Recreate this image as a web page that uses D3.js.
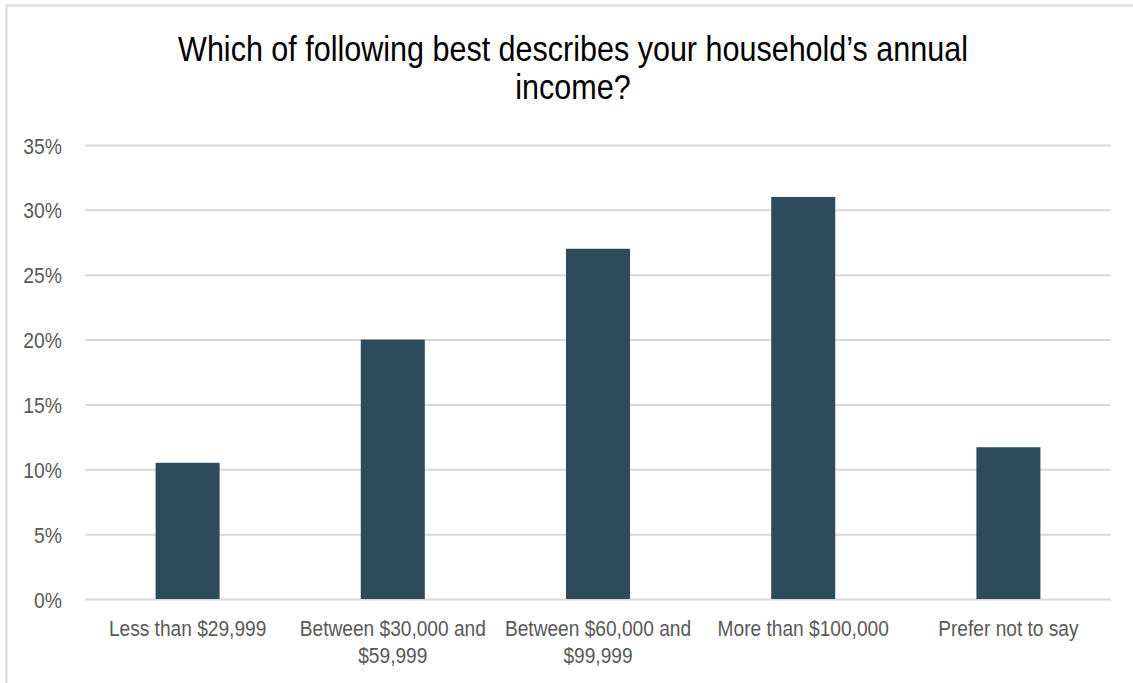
<!DOCTYPE html>
<html>
<head>
<meta charset="utf-8">
<script src="https://cdn.jsdelivr.net/npm/d3@7"></script>
<style>
  body { margin: 0; background: #fff; }
  svg { display: block; font-family: "Liberation Sans", Arial, sans-serif; }
</style>
</head>
<body>
<div id="chart"></div>
<script>
const categories = [
  "Less than $29,999",
  "Between $30,000 and|$59,999",
  "Between $60,000 and|$99,999",
  "More than $100,000",
  "Prefer not to say"
]
const values = [0.105, 0.20, 0.27, 0.31, 0.117]
const yTicks = [0, 0.05, 0.10, 0.15, 0.20, 0.25, 0.30, 0.35]
const titleLines = ["Which of following best describes your household\u2019s annual", "income?"]

const width = 1133
const height = 683
const margin = {top: 145, right: 22, bottom: 84, left: 85}

const svg = d3.select("#chart").append("svg")
  .attr("width", width)
  .attr("height", height)

// chart frame (only top and left edges visible)
svg.append("rect")
  .attr("x", 6.5).attr("y", 5.5)
  .attr("width", width + 20).attr("height", height + 20)
  .attr("fill", "none")
  .attr("stroke", "#d9d9d9")
  .attr("stroke-width", 2)

const x = d3.scaleBand()
  .domain(categories)
  .range([margin.left, width - margin.right])
  .paddingInner(0.688)
  .paddingOuter(0.344)

const y = d3.scaleLinear()
  .domain([0, 0.35])
  .range([height - margin.bottom, margin.top])

// the text in the reference is narrow, so glyphs get squeezed sideways
const yAxis = g => g
  .attr("transform", `translate(${margin.left}, 0)`)
  .call(d3.axisLeft(y)
    .tickValues(yTicks)
    .tickFormat(d3.format(".0%"))
    .tickSize(-(width - margin.left - margin.right)))
  .call(g => g.select(".domain").remove())
  .call(g => g.selectAll(".tick line")
    .attr("stroke", "#d9d9d9")
    .attr("stroke-width", 2))
  .call(g => g.selectAll(".tick text")
    .attr("x", 0)
    .attr("dy", "0.36em")
    .attr("transform", "translate(-23,0) scale(0.86,1)")
    .attr("fill", "#595959")
    .attr("font-size", 22.5))

svg.append("g").call(yAxis).attr("font-family", null)

svg.append("g")
  .selectAll("rect")
  .data(values)
  .join("rect")
  .attr("x", (d, i) => x(categories[i]))
  .attr("y", d => y(d))
  .attr("width", x.bandwidth())
  .attr("height", d => y(0) - y(d))
  .attr("fill", "#2e4b5e")

const xAxis = g => g
  .attr("transform", `translate(0, ${height - margin.bottom})`)
  .call(d3.axisBottom(x).tickSize(0).tickPadding(0).tickFormat(""))
  .call(g => g.select(".domain").remove())

const xg = svg.append("g").call(xAxis).attr("font-family", null)
xg.selectAll(".tick").append("text")
  .attr("fill", "#595959")
  .attr("font-size", 22)
  .attr("text-anchor", "middle")
  .attr("transform", "scale(0.87,1)")
  .selectAll("tspan")
  .data(d => d.split("|"))
  .join("tspan")
  .attr("x", 0)
  .attr("y", (d, i) => 37 + i * 27)
  .text(d => d)

svg.append("text")
  .attr("text-anchor", "middle")
  .attr("font-size", 36)
  .attr("fill", "#000")
  .attr("transform", "translate(573,0) scale(0.848,1)")
  .selectAll("tspan")
  .data(titleLines)
  .join("tspan")
  .attr("x", 0)
  .attr("y", (d, i) => 61 + i * 38)
  .text(d => d)
</script>
</body>
</html>
